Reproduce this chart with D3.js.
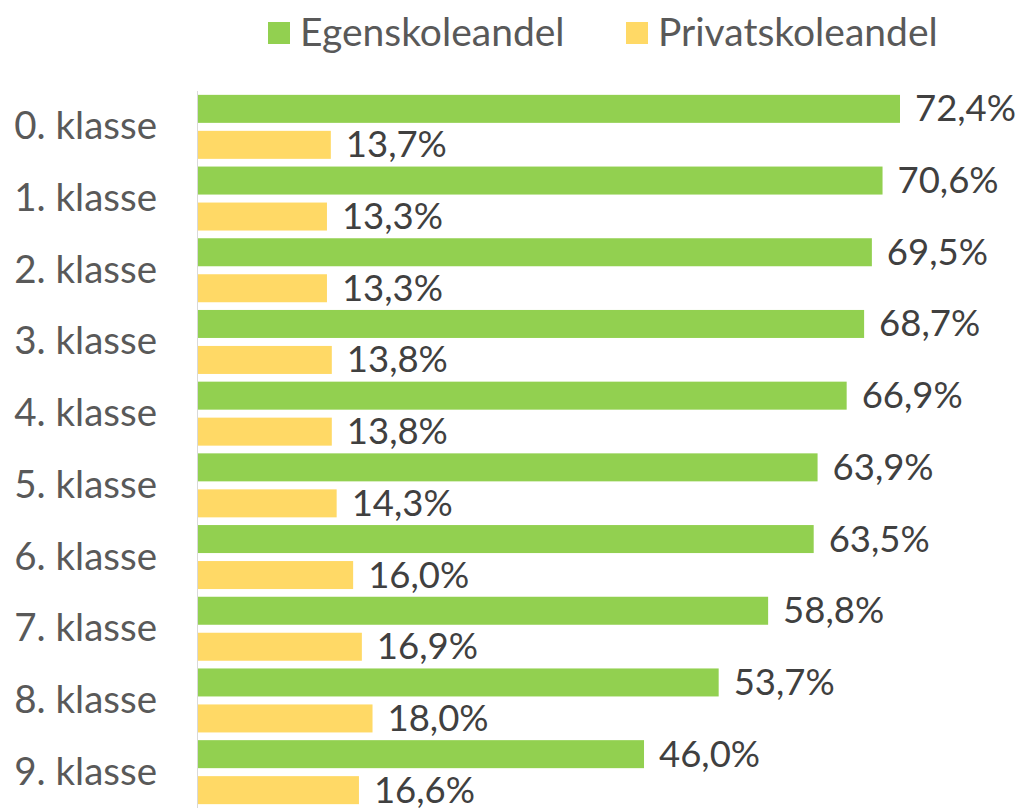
<!DOCTYPE html>
<html>
<head>
<meta charset="utf-8">
<script src="https://cdn.jsdelivr.net/npm/d3@7"></script>
<style>
  body { margin: 0; background: #fff; }
  svg { display: block; font-family: Lato, "Open Sans", sans-serif; }
</style>
</head>
<body>
<div id="chart"></div>
<script>
const categories = ["0. klasse", "1. klasse", "2. klasse", "3. klasse", "4. klasse",
  "5. klasse", "6. klasse", "7. klasse", "8. klasse", "9. klasse"];
const egenskole = [72.4, 70.6, 69.5, 68.7, 66.9, 63.9, 63.5, 58.8, 53.7, 46.0];
const privatskole = [13.7, 13.3, 13.3, 13.8, 13.8, 14.3, 16.0, 16.9, 18.0, 16.6];
const seriesNames = ["Egenskoleandel", "Privatskoleandel"];
const colors = ["#92D050", "#FFD966"];

const width = 1021, height = 808;

const svg = d3.select("#chart").append("svg")
  .attr("width", width)
  .attr("height", height);

const x = d3.scaleLinear()
  .domain([0, 80])
  .range([198, 198 + 80 * 9.696]);

const y = d3.scaleBand()
  .domain(categories)
  .range([91, 808]);

const ySub = d3.scaleBand()
  .domain(seriesNames)
  .range([0, y.bandwidth()])
  .paddingInner(0.222)
  .paddingOuter(0.107);

const fmt = v => v.toFixed(1).replace(".", ",") + "%";

const rows = categories.map((c, i) => ({
  cat: c,
  vals: [egenskole[i], privatskole[i]]
}));

// axis line
svg.append("line")
  .attr("x1", x(0) - 0.5).attr("x2", x(0) - 0.5)
  .attr("y1", y.range()[0]).attr("y2", y.range()[1])
  .attr("stroke", "#d9d9d9")
  .attr("stroke-width", 1);

const groups = svg.selectAll("g.row")
  .data(rows)
  .enter()
  .append("g")
  .attr("class", "row")
  .attr("transform", d => `translate(0, ${y(d.cat)})`);

seriesNames.forEach((s, si) => {
  groups.append("rect")
    .attr("x", x(0))
    .attr("y", ySub(s))
    .attr("height", ySub.bandwidth())
    .attr("width", d => x(d.vals[si]) - x(0))
    .attr("fill", colors[si]);

  groups.append("text")
    .text(d => fmt(d.vals[si]))
    .attr("x", d => x(d.vals[si]) + 15)
    .attr("y", ySub(s) + ySub.bandwidth() / 2 + 12.5)
    .attr("fill", "#404040")
    .style("font-size", "36.5px");
});

// category labels
groups.append("text")
  .text(d => d.cat)
  .attr("x", 157)
  .attr("y", y.bandwidth() / 2 + 12.5)
  .attr("text-anchor", "end")
  .attr("fill", "#595959")
  .style("font-size", "38.5px");

// legend
const legendX = [268, 626];
const legend = svg.selectAll("g.legend")
  .data(seriesNames)
  .enter()
  .append("g")
  .attr("class", "legend")
  .attr("transform", (d, i) => `translate(${legendX[i]}, 22)`);

legend.append("rect")
  .attr("width", 22)
  .attr("height", 22)
  .attr("fill", (d, i) => colors[i]);

legend.append("text")
  .text(d => d)
  .attr("x", 32)
  .attr("y", 23.5)
  .attr("fill", "#595959")
  .style("font-size", "39px");
</script>
</body>
</html>
